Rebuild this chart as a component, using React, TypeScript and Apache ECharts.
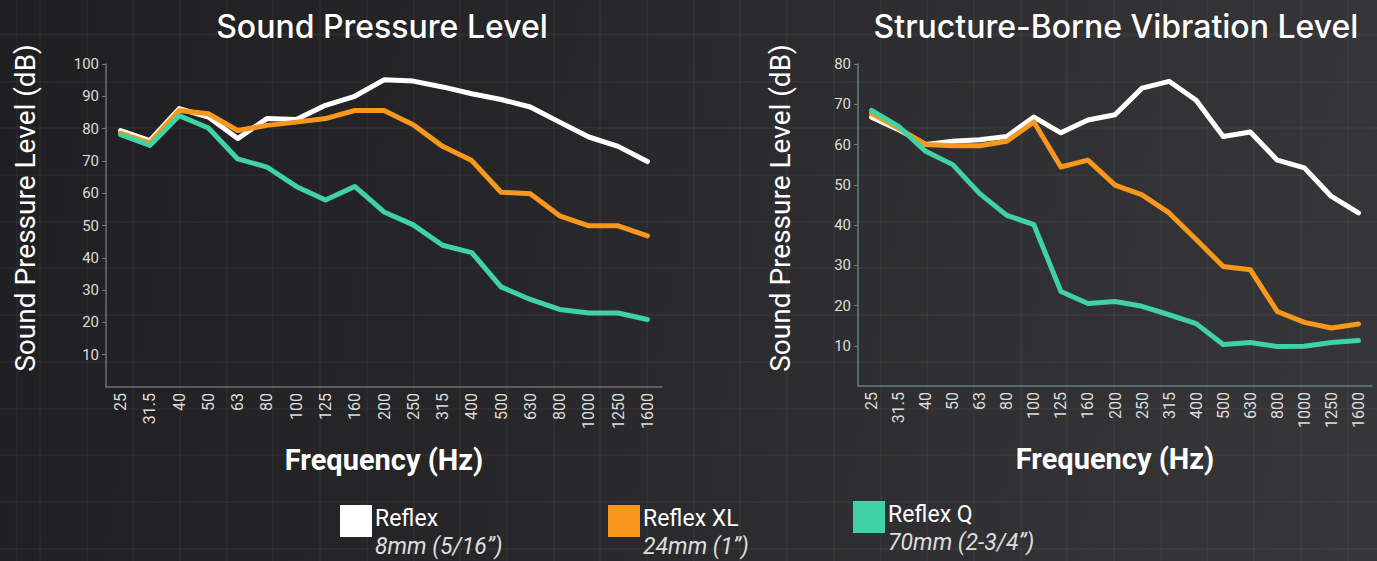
import React, { useEffect, useRef } from "react";
import * as echarts from "echarts";

const frequencies = ["25", "31.5", "40", "50", "63", "80", "100", "125", "160", "200", "250", "315", "400", "500", "630", "800", "1000", "1250", "1600"];

const splReflex = [79.4, 76.3, 86.2, 83.6, 76.9, 83.1, 82.8, 87.2, 90.0, 95.1, 94.7, 92.9, 90.8, 89.0, 86.7, 82.0, 77.4, 74.5, 69.8];
const splReflexXL = [78.6, 75.6, 85.6, 84.6, 79.4, 81.0, 82.0, 83.1, 85.6, 85.6, 81.2, 74.5, 70.1, 60.3, 59.8, 53.0, 49.9, 49.9, 46.8];
const splReflexQ = [78.1, 74.8, 84.0, 80.2, 70.6, 68.1, 62.1, 57.9, 62.1, 54.2, 50.2, 43.9, 41.6, 31.0, 27.1, 24.0, 22.9, 22.9, 20.9];

const vibReflex = [66.8, 63.7, 60.0, 60.8, 61.2, 62.0, 66.8, 62.9, 66.1, 67.4, 74.0, 75.7, 71.0, 62.0, 63.1, 56.1, 54.2, 47.1, 43.0];
const vibReflexXL = [67.7, 64.0, 60.0, 59.7, 59.7, 60.8, 65.6, 54.4, 56.1, 49.9, 47.5, 43.0, 36.4, 29.7, 28.9, 18.5, 15.8, 14.4, 15.4];
const vibReflexQ = [68.5, 64.5, 58.3, 55.0, 47.8, 42.4, 40.1, 23.5, 20.5, 21.0, 19.8, 17.7, 15.5, 10.3, 10.8, 9.8, 9.9, 10.8, 11.3];

const seriesNames = ["Reflex", "Reflex XL", "Reflex Q"];
const seriesSizes = ["8mm (5/16\u201d)", "24mm (1\u201d)", "70mm (2-3/4\u201d)"];
const seriesColors = ["#ffffff", "#f7981d", "#40d1a5"];

const chartTitles = ["Sound Pressure Level", "Structure-Borne Vibration Level"];
const yAxisName = "Sound Pressure Level (dB)";
const xAxisName = "Frequency (Hz)";

export default function App() {
  const ref = useRef<HTMLDivElement>(null);

  useEffect(() => {
    if (!ref.current) return;
    const chart = echarts.init(ref.current, undefined, { renderer: "svg" });

    const xAxisBase = (gridIndex: number, lineColor: string) => ({
      type: "category" as const,
      gridIndex,
      data: frequencies,
      boundaryGap: true,
      axisLine: { show: true, lineStyle: { color: lineColor, width: 1.5 } },
      axisTick: { show: false },
      axisLabel: {
        rotate: 90,
        interval: 0,
        margin: 6,
        color: "#dcdcdc",
        fontSize: 16,
        fontFamily: "Roboto",
      },
      splitLine: { show: false },
      name: xAxisName,
      nameLocation: "middle" as const,
      nameGap: 58,
      nameTextStyle: {
        color: "#ffffff",
        fontSize: 29,
        fontWeight: "bold" as const,
        fontFamily: "Roboto",
      },
    });

    const yAxisBase = (gridIndex: number, max: number, lineColor: string) => ({
      type: "value" as const,
      gridIndex,
      min: 0,
      max,
      interval: 10,
      axisLine: { show: true, lineStyle: { color: lineColor, width: 1.5 } },
      axisTick: { show: true, length: 4, lineStyle: { color: "#777777" } },
      axisLabel: {
        showMinLabel: false,
        margin: 7,
        color: "#dcdcdc",
        fontSize: 15,
        fontFamily: "Roboto",
      },
      splitLine: { show: false },
    });

    const line = (name: string, data: number[], color: string, axisIndex: number) => ({
      type: "line" as const,
      name,
      data,
      xAxisIndex: axisIndex,
      yAxisIndex: axisIndex,
      showSymbol: false,
      symbol: "none",
      lineStyle: { color, width: 5, cap: "round" as const, join: "round" as const },
      itemStyle: { color },
    });

    const legendX = [340, 608, 853];
    const legendY = [505, 505, 501];
    const legendGraphics: any[] = [];
    seriesNames.forEach((n, i) => {
      legendGraphics.push({
        type: "rect",
        shape: { x: legendX[i], y: legendY[i], width: 32, height: 32 },
        style: { fill: seriesColors[i] },
      });
      legendGraphics.push({
        type: "text",
        x: legendX[i] + 35,
        y: legendY[i] + 13,
        style: {
          text: n,
          fill: "#ffffff",
          font: "400 23px Roboto",
          align: "left",
          verticalAlign: "middle",
        },
      });
      legendGraphics.push({
        type: "text",
        x: legendX[i] + 35,
        y: legendY[i] + 41,
        style: {
          text: seriesSizes[i],
          fill: "#dddddd",
          font: "italic 400 23px Roboto",
          align: "left",
          verticalAlign: "middle",
        },
      });
    });

    chart.setOption({
      animation: false,
      backgroundColor: "transparent",
      grid: [
        { left: 106, top: 64, width: 556, height: 323 },
        { left: 858, top: 64, width: 514, height: 322 },
      ],
      xAxis: [xAxisBase(0, "#6f6f6f"), xAxisBase(1, "#62807b")],
      yAxis: [yAxisBase(0, 100, "#6f6f6f"), yAxisBase(1, 80, "#62807b")],
      series: [
        line(seriesNames[0], splReflex, seriesColors[0], 0),
        line(seriesNames[1], splReflexXL, seriesColors[1], 0),
        line(seriesNames[2], splReflexQ, seriesColors[2], 0),
        line(seriesNames[0], vibReflex, seriesColors[0], 1),
        line(seriesNames[1], vibReflexXL, seriesColors[1], 1),
        line(seriesNames[2], vibReflexQ, seriesColors[2], 1),
      ],
      graphic: [
        {
          type: "text",
          x: 382,
          y: 26,
          style: { text: chartTitles[0], fill: "#ffffff", font: "500 32px Inter", align: "center", verticalAlign: "middle" },
        },
        {
          type: "text",
          x: 1116,
          y: 26,
          style: { text: chartTitles[1], fill: "#ffffff", font: "500 32px Inter", align: "center", verticalAlign: "middle" },
        },
        {
          type: "text",
          x: 25,
          y: 208,
          rotation: Math.PI / 2,
          style: { text: yAxisName, fill: "#ffffff", font: "400 28px Roboto", align: "center", verticalAlign: "middle" },
        },
        {
          type: "text",
          x: 780,
          y: 208,
          rotation: Math.PI / 2,
          style: { text: yAxisName, fill: "#ffffff", font: "400 28px Roboto", align: "center", verticalAlign: "middle" },
        },
        ...legendGraphics,
      ],
    });

    return () => chart.dispose();
  }, []);

  return (
    <div
      style={{
        position: "fixed",
        left: 0,
        top: 0,
        width: 1377,
        height: 561,
        backgroundColor: "#2a2a2c",
        backgroundImage:
          "repeating-linear-gradient(90deg, rgba(255,255,255,0.03) 0px, rgba(255,255,255,0.03) 2px, transparent 2px, transparent 46.7px)," +
          "repeating-linear-gradient(180deg, rgba(255,255,255,0.03) 0px, rgba(255,255,255,0.03) 2px, transparent 2px, transparent 46.7px)," +
          "linear-gradient(100deg, #1f1f21 0%, #262628 35%, #303032 70%, #37373a 100%)",
        backgroundPosition: "39px 0px, 0px 34px, 0px 0px",
      }}
    >
      <div ref={ref} style={{ width: 1377, height: 561 }} />
    </div>
  );
}
